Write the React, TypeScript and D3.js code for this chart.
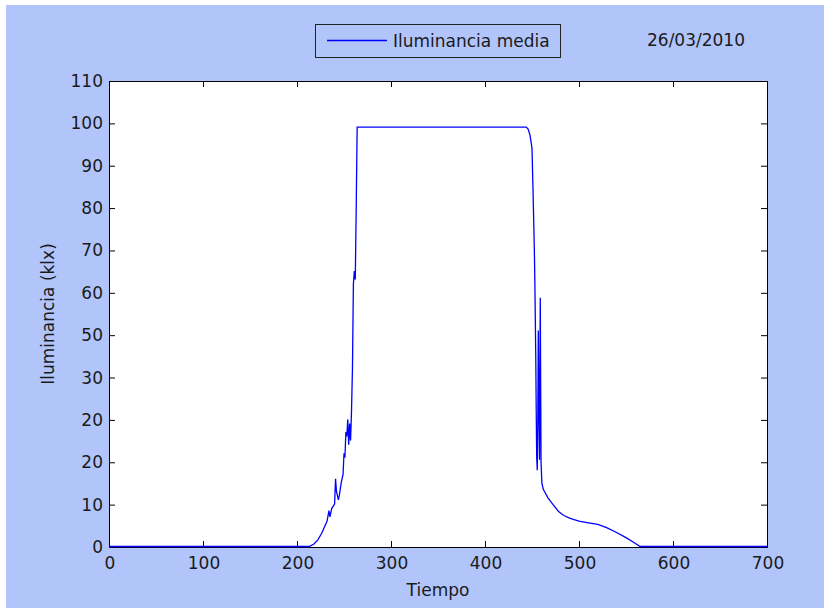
import * as d3 from "d3";

// tiempo / iluminancia media (klx)
const tiempo = [
  0, 213, 218, 222, 226, 229, 232, 234, 235, 237, 240, 241, 242, 244, 245, 247, 249,
  250, 251, 252, 253, 254, 255, 256, 257, 258, 259, 260, 261, 262, 263, 264,
  444, 446, 448, 450, 451, 451.5, 452.5, 453, 454, 454.5, 455, 455.6, 456.2, 456.7,
  457.3, 458, 458.8, 459.6, 460.5, 462, 464, 467, 471, 475, 478, 482, 485, 490, 494,
  500, 510, 520, 530, 540, 550, 558, 565, 700,
];
const iluminancia = [
  0, 0, 0.6, 1.5, 3, 4.5, 6, 8.5, 7, 9, 10, 16, 13, 11, 12, 15, 17,
  22, 21, 27, 26, 30, 24, 29, 25, 32, 42, 62, 65, 63, 80, 99,
  99, 98.5, 97, 94, 85, 80, 70, 63, 45, 32, 21, 18, 30, 51,
  35, 20.5, 58.7, 20, 15, 13.5, 12.7, 11.5, 10.3, 9.2, 8.3, 7.6, 7.2, 6.7, 6.4,
  6.0, 5.6, 5.2, 4.4, 3.3, 2.1, 1.0, 0, 0,
];

const xTicks = [0, 100, 200, 300, 400, 500, 600, 700];
const yTicks = [0, 10, 20, 30, 40, 50, 60, 70, 80, 90, 100, 110];
// the original figure carries these labels as they are
const yTickLabels = ["0", "10", "20", "20", "30", "50", "60", "70", "80", "90", "100", "110"];

const W = 824;
const H = 608;
const left = 109;
const right = 767;
const top = 81;
const bottom = 547;
const TICK = 6;
const FONT = "'DejaVu Sans', sans-serif";
const BG = "#b1c5fb";

export default function App() {
  const x = d3.scaleLinear().domain([0, 700]).range([left, right]);
  const y = d3.scaleLinear().domain([0, 110]).range([bottom, top]);

  const pts: [number, number][] = tiempo.map((t, i) => [t, iluminancia[i]]);
  const line = d3
    .line<[number, number]>()
    .x((d) => x(d[0]))
    .y((d) => y(d[1]) - 0.5);

  return (
    <div style={{ position: "absolute", left: 0, top: 0 }}>
      <svg width={W} height={H} fontFamily={FONT}>
        <rect x={0} y={0} width={W} height={H} fill="#fff" />
        <rect x={6} y={5} width={W - 6} height={H - 5} fill={BG} />
        <rect x={left} y={top} width={right - left} height={bottom - top} fill="#fff" />

        {/* ticks on all four sides, pointing inward */}
        <g stroke="#000" strokeWidth={1}>
          {xTicks.map((t) => (
            <g key={"x" + t}>
              <line x1={x(t) + 0.5} x2={x(t) + 0.5} y1={bottom} y2={bottom - TICK} />
              <line x1={x(t) + 0.5} x2={x(t) + 0.5} y1={top} y2={top + TICK} />
            </g>
          ))}
          {yTicks.map((t) => (
            <g key={"y" + t}>
              <line x1={left} x2={left + TICK} y1={y(t) + 0.5} y2={y(t) + 0.5} />
              <line x1={right} x2={right - TICK} y1={y(t) + 0.5} y2={y(t) + 0.5} />
            </g>
          ))}
        </g>
        <rect
          x={left + 0.5}
          y={top + 0.5}
          width={right - left}
          height={bottom - top}
          fill="none"
          stroke="#000"
          strokeWidth={1}
        />

        <path d={line(pts) ?? ""} fill="none" stroke="#0000ff" strokeWidth={1.3} />

        <g fontSize={17} fill="#1a1a1a">
          {xTicks.map((t) => (
            <text key={"xl" + t} x={x(t) + 1} y={bottom + 22} textAnchor="middle">
              {t}
            </text>
          ))}
          {yTicks.map((t, i) => (
            <text key={"yl" + t} x={left - 6} y={y(t) + 6} textAnchor="end">
              {yTickLabels[i]}
            </text>
          ))}
          <text x={(left + right) / 2} y={596} textAnchor="middle">
            Tiempo
          </text>
          <text
            transform={`translate(54, ${(top + bottom) / 2}) rotate(-90)`}
            textAnchor="middle"
          >
            Iluminancia (klx)
          </text>
          <text x={696} y={46} textAnchor="middle">
            26/03/2010
          </text>
        </g>

        {/* legend */}
        <rect x={315.5} y={24.5} width={245} height={33} fill={BG} stroke="#222" strokeWidth={1} />
        <line x1={327} x2={387} y1={40.5} y2={40.5} stroke="#0000ff" strokeWidth={1.3} />
        <text x={393} y={47} fontSize={17} fill="#1a1a1a">
          Iluminancia media
        </text>
      </svg>
    </div>
  );
}
